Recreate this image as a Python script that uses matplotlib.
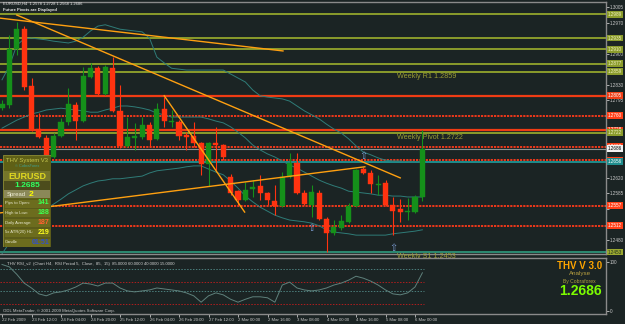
import matplotlib
matplotlib.use('Agg')
import matplotlib.pyplot as plt
import matplotlib.transforms as mtransforms
from matplotlib.patches import Rectangle

plt.rcParams['font.family'] = ['Liberation Sans', 'DejaVu Sans']

# EURUSD H4 bars, 22 Feb 2009 20:00 .. 6 Mar 2009 04:00
opens = [1.2777, 1.2784, 1.2910, 1.2955, 1.2827, 1.2730, 1.2710, 1.2667, 1.2714, 1.2746,
         1.2784, 1.2748, 1.2847, 1.2867, 1.2809, 1.2867, 1.2771, 1.2692, 1.2710, 1.2712,
         1.2739, 1.2708, 1.2775, 1.2746, 1.2746, 1.2717, 1.2714, 1.2699, 1.2651, 1.2699,
         1.2694, 1.2622, 1.2590, 1.2570, 1.2595, 1.2602, 1.2586, 1.2568, 1.2557, 1.2622,
         1.2654, 1.2586, 1.2559, 1.2586, 1.2527, 1.2496, 1.2507, 1.2521, 1.2557, 1.2640,
         1.2631, 1.2604, 1.2608, 1.2559, 1.2550, 1.2543, 1.2543, 1.2578]
highs = [1.2795, 1.2942, 1.2971, 1.2962, 1.2845, 1.2766, 1.2717, 1.2721, 1.2755, 1.2822,
         1.2791, 1.2870, 1.2879, 1.2872, 1.2874, 1.2892, 1.2829, 1.2757, 1.2744, 1.2757,
         1.2746, 1.2789, 1.2802, 1.2773, 1.2750, 1.2723, 1.2746, 1.2701, 1.2701, 1.2735,
         1.2696, 1.2629, 1.2593, 1.2611, 1.2615, 1.2627, 1.2588, 1.2604, 1.2633, 1.2676,
         1.2676, 1.2593, 1.2604, 1.2593, 1.2532, 1.2525, 1.2536, 1.2563, 1.2640, 1.2645,
         1.2638, 1.2627, 1.2615, 1.2577, 1.2572, 1.2575, 1.2581, 1.2728]
lows = [1.2773, 1.2777, 1.2897, 1.2818, 1.2726, 1.2710, 1.2667, 1.2665, 1.2712, 1.2739,
        1.2705, 1.2746, 1.2845, 1.2807, 1.2807, 1.2768, 1.2687, 1.2690, 1.2683, 1.2708,
        1.2690, 1.2705, 1.2735, 1.2735, 1.2705, 1.2683, 1.2690, 1.2627, 1.2602, 1.2638,
        1.2660, 1.2581, 1.2559, 1.2568, 1.2577, 1.2570, 1.2559, 1.2536, 1.2554, 1.2620,
        1.2584, 1.2559, 1.2532, 1.2525, 1.2453, 1.2491, 1.2503, 1.2518, 1.2554, 1.2629,
        1.2586, 1.2581, 1.2557, 1.2491, 1.2521, 1.2525, 1.2541, 1.2568]
closes = [1.2786, 1.2910, 1.2955, 1.2825, 1.2730, 1.2712, 1.2672, 1.2714, 1.2746, 1.2786,
          1.2748, 1.2850, 1.2867, 1.2809, 1.2870, 1.2771, 1.2692, 1.2712, 1.2714, 1.2739,
          1.2705, 1.2775, 1.2748, 1.2748, 1.2714, 1.2712, 1.2699, 1.2651, 1.2699, 1.2694,
          1.2667, 1.2586, 1.2570, 1.2593, 1.2599, 1.2586, 1.2570, 1.2557, 1.2622, 1.2654,
          1.2586, 1.2561, 1.2588, 1.2527, 1.2496, 1.2509, 1.2523, 1.2557, 1.2638, 1.2631,
          1.2606, 1.2606, 1.2559, 1.2545, 1.2543, 1.2545, 1.2577, 1.2686]

# channel lines (upper / middle / lower)
band_upper = [1.2841, 1.2872, 1.2919, 1.2933, 1.2935, 1.2933, 1.2931, 1.2928, 1.2926, 1.2924,
              1.2928, 1.2937, 1.2951, 1.2962, 1.2965, 1.2960, 1.2955, 1.2953, 1.2951, 1.2949,
              1.2935, 1.2892, 1.2879, 1.2867, 1.2865, 1.2863, 1.2863, 1.2863, 1.2863, 1.2863,
              1.2863, 1.2854, 1.2845, 1.2836, 1.2818, 1.2805, 1.2802, 1.2800, 1.2798, 1.2793,
              1.2782, 1.2771, 1.2762, 1.2753, 1.2741, 1.2730, 1.2721, 1.2708, 1.2692, 1.2678,
              1.2672, 1.2665, 1.2660, 1.2658, 1.2658, 1.2656, 1.2656, 1.2656]
band_middle = [1.2732, 1.2741, 1.2750, 1.2757, 1.2764, 1.2768, 1.2773, 1.2775, 1.2777, 1.2775,
               1.2773, 1.2771, 1.2768, 1.2768, 1.2773, 1.2777, 1.2782, 1.2782, 1.2780, 1.2777,
               1.2773, 1.2766, 1.2762, 1.2757, 1.2757, 1.2757, 1.2757, 1.2757, 1.2753, 1.2748,
               1.2744, 1.2735, 1.2723, 1.2710, 1.2694, 1.2683, 1.2674, 1.2667, 1.2658, 1.2649,
               1.2642, 1.2633, 1.2624, 1.2615, 1.2608, 1.2602, 1.2597, 1.2590, 1.2588, 1.2586,
               1.2584, 1.2581, 1.2581, 1.2579, 1.2579, 1.2577, 1.2577, 1.2577]
band_lower = [1.2449, 1.2473, 1.2494, 1.2512, 1.2534, 1.2541, 1.2550, 1.2561, 1.2572, 1.2584,
              1.2593, 1.2602, 1.2608, 1.2613, 1.2615, 1.2618, 1.2618, 1.2620, 1.2622, 1.2624,
              1.2631, 1.2636, 1.2638, 1.2640, 1.2642, 1.2645, 1.2647, 1.2647, 1.2640, 1.2633,
              1.2627, 1.2613, 1.2597, 1.2579, 1.2566, 1.2554, 1.2545, 1.2536, 1.2530, 1.2525,
              1.2523, 1.2521, 1.2518, 1.2512, 1.2503, 1.2498, 1.2496, 1.2494, 1.2491, 1.2491,
              1.2491, 1.2491, 1.2491, 1.2494, 1.2496, 1.2498, 1.2500, 1.2503]

rsi = [95, 90, 75, 57, 47, 35, 31, 37, 39, 43, 49, 57, 55, 51, 57, 57, 47, 41, 39, 41,
       43, 47, 45, 43, 41, 37, 31, 18, 31, 37, 33, 24, 18, 24, 29, 29, 27, 18, 53, 59,
       47, 43, 41, 43, 47, 53, 57, 63, 71, 67, 61, 53, 43, 35, 33, 37, 49, 78]
rsi_levels = [85, 60, 40, 15]

time_labels = ['22 Feb 2009', '23 Feb 12:00', '24 Feb 04:00', '24 Feb 20:00', '25 Feb 12:00',
               '26 Feb 04:00', '26 Feb 20:00', '27 Feb 12:00', '2 Mar 00:00', '2 Mar 16:00',
               '3 Mar 08:00', '4 Mar 00:00', '4 Mar 16:00', '5 Mar 08:00', '6 Mar 00:00']
price_ticks = [1.3005, 1.2970, 1.2935, 1.2900, 1.2865, 1.2830, 1.2795, 1.2760, 1.2725,
               1.2690, 1.2655, 1.2620, 1.2585, 1.2550, 1.2515, 1.2480]

# pivot / level lines
levels = [1.2989, 1.2935, 1.2910, 1.2877, 1.2859, 1.2805, 1.2760, 1.2728, 1.2722,
          1.2690, 1.2686, 1.2660, 1.2656, 1.2557, 1.2512, 1.2453]
level_kinds = ['olive', 'olive', 'olive', 'olive', 'olive', 'red', 'dot', 'red', 'olive',
               'dot', 'bid', 'dot', 'teal', 'dot', 'dot', 's1']

# trend lines: (bar, price) -> (bar, price)
trend_lines = [((-0.3, 1.2980), (38.1, 1.2906)),
               ((2.0, 1.2987), (54.0, 1.2620)),
               ((22.0, 1.2805), (32.9, 1.2543)),
               ((-0.3, 1.2541), (49.2, 1.2645))]

arrow_bars = [49, 42, 53]
arrow_prices = [1.2669, 1.2507, 1.2462]

weekly_names = ['Weekly R1 1.2859', 'Weekly Pivot 1.2722', 'Weekly S1 1.2453']
weekly_prices = [1.2859, 1.2722, 1.2453]

info_labels = ['Pips to Open:', 'High to Low:', 'Daily Average:', '5x ATR(20) HL:', 'Candle']
info_values = ['141', '188', '187', '219', '01:51']
info_colors = ['#3cff50', '#3cff50', '#ff6030', '#ffff20', '#3050d0']

BG = '#1b2424'
GREEN = '#15901a'
RED = '#ff3310'
TEAL = '#2f7c78'
GRID = '#8a8a8a'
kind_style = {
    'olive': dict(color='#8b9c2c', lw=1.4, ls='-'),
    'red': dict(color='#f03c14', lw=1.6, ls='-'),
    'dot': dict(color='#ff3a1a', lw=1.3, ls=(0, (1.2, 0.6))),
    'bid': dict(color='#8c9494', lw=0.8, ls='-'),
    'teal': dict(color='#1f8c8c', lw=1.4, ls='-'),
    's1': dict(color='#2c8a72', lw=1.4, ls='-'),
}
tag_style = {
    'olive': ('#8b9c2c', '#f0f0c0'), 'red': ('#f04018', 'white'), 'dot': ('#ff4018', 'white'),
    'bid': ('#f2f2f2', 'black'), 'teal': ('#1f8c8c', 'white'), 's1': ('#9aa830', '#203020'),
}

W, H = 625.0, 324.0


def fig_box(x0, y0, x1, y1):
    return [x0 / W, 1 - y1 / H, (x1 - x0) / W, (y1 - y0) / H]


fig = plt.figure(figsize=(6.25, 3.24), dpi=100)
fig.patch.set_facecolor(BG)

ax = fig.add_axes(fig_box(0, 2, 606, 254))
iax = fig.add_axes(fig_box(0, 258, 606, 314))
xmin, xmax = -2 / 7.375, 604 / 7.375
bars = list(range(len(opens)))

for a in (ax, iax):
    a.set_facecolor(BG)
    a.set_xlim(xmin, xmax)
    for side in ['top', 'right', 'bottom']:
        a.spines[side].set_color(GRID)
        a.spines[side].set_linewidth(1)
    a.spines['left'].set_visible(False)

# main price panel; tick labels that sit under a level tag are hidden by it
ax.set_ylim(1.24485, 1.30163)
ax.yaxis.tick_right()
ax.set_yticks(price_ticks)
ax.set_yticklabels(['' if min(abs(p - l) for l in levels) < 0.0009 else '%.4f' % p
                    for p in price_ticks])
ax.tick_params(axis='y', labelsize=3.3, colors='#c8c8c8', length=2, pad=1, width=0.6)
ax.set_xticks([])

trans = mtransforms.blended_transform_factory(ax.transAxes, ax.transData)
for lvl, kind in zip(levels, level_kinds):
    st = kind_style[kind]
    ax.axhline(lvl, color=st['color'], lw=st['lw'], ls=st['ls'], zorder=1)
    fc, tc = tag_style[kind]
    ax.text(1.003, lvl, '%.4f' % lvl, transform=trans, fontsize=3.3, color=tc, va='center',
            ha='left', clip_on=False, zorder=10,
            bbox=dict(boxstyle='square,pad=0.2', fc=fc, ec='none'))

ax.plot(bars, band_upper, color=TEAL, lw=0.7, zorder=2)
ax.plot(bars, band_middle, color=TEAL, lw=0.7, zorder=2)
ax.plot(bars, band_lower, color=TEAL, lw=0.7, zorder=2)

for i in bars:
    o, h, l, c = opens[i], highs[i], lows[i], closes[i]
    col = GREEN if c >= o else RED
    ax.vlines(i, l, h, color=col, lw=0.8, zorder=4)
    ax.add_patch(Rectangle((i - 0.34, min(o, c)), 0.68, max(abs(c - o), 0.0001),
                           fc=col, ec=col, lw=0.3, zorder=5))

for (b0, p0), (b1, p1) in trend_lines:
    ax.plot([b0, b1], [p0, p1], color='#ffa010', lw=1.0, zorder=6)

for b, p in zip(arrow_bars, arrow_prices):
    ax.text(b, p, '\u21e7', color='#7a9ad0', fontsize=7, ha='center', va='center', zorder=7,
            family='DejaVu Sans')

for name, p in zip(weekly_names, weekly_prices):
    ax.text(53.6, p - 0.0002, name, color='#9a9c34', fontsize=5.2, ha='left', va='top',
            zorder=7, clip_on=False)

# indicator panel
iax.set_ylim(-6.1, 108.2)
iax.plot(bars, rsi, color='#5f817c', lw=0.7, zorder=3)
iax.hlines([rsi_levels[0], rsi_levels[2]], xmin, 57.2, colors='#4b7e7c', lw=0.7,
           linestyles=(0, (1.5, 1.5)))
iax.hlines([rsi_levels[1], rsi_levels[3]], xmin, 57.2, colors='#b01e1e', lw=0.7,
           linestyles=(0, (1.5, 1.5)))
iax.yaxis.tick_right()
iax.set_yticks([0, 100])
iax.set_yticklabels(['0', '100'])
iax.tick_params(axis='y', labelsize=3.3, colors='#c8c8c8', length=2, pad=1, width=0.6)
iax.set_xticks(list(range(0, 57, 4)))
iax.set_xticklabels(time_labels)
iax.tick_params(axis='x', labelsize=3.1, colors='#c8c8c8', length=2, pad=1, width=0.6)
for lbl in iax.get_xticklabels():
    lbl.set_ha('left')
iax.text(0.012, 0.89, 'THV RSI_v2  (Chart H4,  RSI Period 5,  Close,  85,  15)  '
         '85.0000 60.0000 40.0000 15.0000', transform=iax.transAxes, fontsize=3.1,
         color='#d0d0d0', va='center')
iax.text(0.005, 0.06, 'ODL MetaTrader, \u00a9 2001-2009 MetaQuotes Software Corp.',
         transform=iax.transAxes, fontsize=3.1, color='#c8c8c8', va='center')

# header
fig.text(3 / W, 1 - 4 / H, 'EURUSD,H4  1.2578 1.2728 1.2568 1.2686', fontsize=3.0,
         color='#e8e8e8', va='center')
fig.text(3 / W, 1 - 9.5 / H, 'Future Pivots are Displayed', fontsize=3.0, color='#e8e8e8',
         va='center', weight='bold')

# info panel
pax = fig.add_axes(fig_box(3, 155, 51, 247))
pax.set_xlim(0, 48)
pax.set_ylim(92, 0)
pax.axis('off')
pax.add_patch(Rectangle((0, 0), 48, 92, fc='#5f6016', ec='#8c8c34', lw=0.6))
pax.add_patch(Rectangle((1, 16), 46, 10, fc='#76762a', ec='none'))
pax.add_patch(Rectangle((1, 26), 46, 9, fc='#4c4c1c', ec='none'))
pax.add_patch(Rectangle((1, 35), 46, 8, fc='#8a8858', ec='none'))
for k in range(len(info_labels)):
    y0 = 43 + k * 9.8
    pax.add_patch(Rectangle((1, y0 + 0.5), 46, 9, fc='#6c6c1e', ec='#55551a', lw=0.4))
    pax.text(2, y0 + 5, info_labels[k], fontsize=3.0, color='#e8e8d0', va='center')
    pax.text(46.5, y0 + 5, info_values[k], fontsize=5.0, color=info_colors[k], va='center',
             ha='right', weight='bold')
pax.text(24, 5, 'THV System V3', fontsize=4.2, color='#c8c850', ha='center', va='center')
pax.text(24, 11, '\u00a9 CobraForex', fontsize=2.8, color='#40a090', ha='center', va='center')
pax.text(24, 21, 'EURUSD', fontsize=6.5, color='#e0d820', ha='center', va='center',
         weight='bold')
pax.text(24, 30.5, '1.2685', fontsize=6, color='#30ff60', ha='center', va='center',
         weight='bold')
pax.text(23, 39, 'Spread', fontsize=4.2, color='#f0f0d8', ha='right', va='center')
pax.text(26, 39, '2', fontsize=6, color='#ffff00', ha='left', va='center', weight='bold')

# branding bottom right
fig.text(580 / W, 1 - 266 / H, 'THV V 3.0', fontsize=7, color='#ffa500', weight='bold',
         ha='center', va='center')
fig.text(580 / W, 1 - 274 / H, 'Analyse', fontsize=4.5, color='#b8a040', ha='center',
         va='center')
fig.text(579 / W, 1 - 281 / H, 'By Cobraforex', fontsize=3.6, color='#b0a040', ha='center',
         va='center')
fig.text(580 / W, 1 - 291 / H, '1.2686', fontsize=10, color='#7cfc00', weight='bold',
         ha='center', va='center')

fig.savefig('out.png', dpi=100, facecolor=BG)
